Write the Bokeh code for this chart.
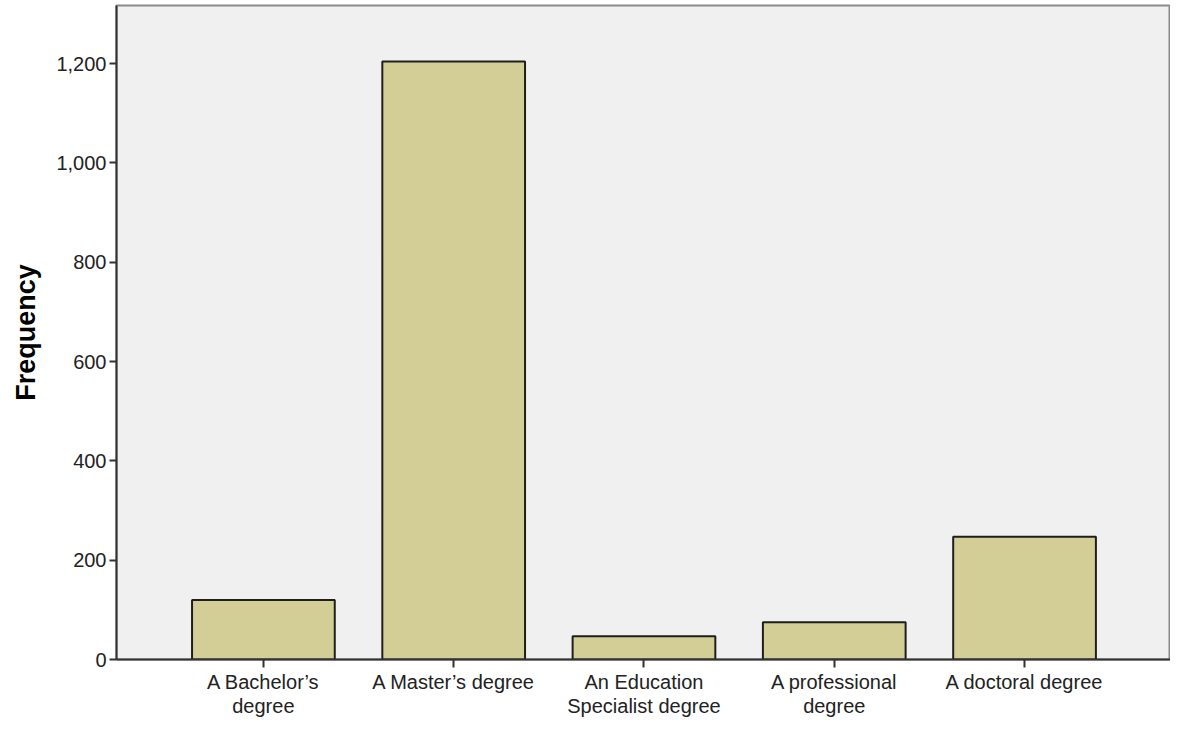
from bokeh.plotting import figure
from bokeh.models import Range1d, FixedTicker, NumeralTickFormatter
from bokeh.embed import file_html
from bokeh.resources import INLINE

categories = ["A Bachelor\u2019s\ndegree", "A Master\u2019s degree", "An Education\nSpecialist degree",
              "A professional\ndegree", "A doctoral degree"]
frequency = [120, 1204, 47, 75, 247]
y_ticks = [0, 200, 400, 600, 800, 1000, 1200]

idx = list(range(len(categories)))

p = figure(width=1170, height=719, output_backend="svg", toolbar_location=None,
           x_range=Range1d(-0.772, 4.767), y_range=Range1d(0, 1317),
           min_border_left=116, min_border_right=0, min_border_top=5, min_border_bottom=55)

p.background_fill_color = "#F0F0F0"
p.border_fill_color = "white"
p.outline_line_color = "#8a8a8a"
p.outline_line_width = 2
p.xgrid.visible = False
p.ygrid.visible = False

p.vbar(x=idx, top=frequency, width=0.75, bottom=0,
       fill_color="#D3CE96", line_color="#1e1e1e", line_width=2)

font = "Liberation Sans"
p.xaxis.ticker = FixedTicker(ticks=idx)
p.xaxis.major_label_overrides = {i: c for i, c in zip(idx, categories)}
p.yaxis.ticker = FixedTicker(ticks=y_ticks)
p.yaxis.formatter = NumeralTickFormatter(format="0,0")

for ax in (p.xaxis[0], p.yaxis[0]):
    ax.axis_line_color = "#333333"
    ax.axis_line_width = 2
    ax.major_tick_line_color = "#333333"
    ax.major_tick_line_width = 2
    ax.major_tick_in = 0
    ax.minor_tick_line_color = None
    ax.major_label_text_font = font
    ax.major_label_text_color = "#222222"

p.xaxis.major_label_text_font_size = "20px"
p.yaxis.major_label_text_font_size = "20px"
p.xaxis.major_label_text_line_height = 1.1
p.xaxis.major_tick_out = 8
p.yaxis.major_tick_out = 7
p.xaxis.major_label_standoff = 3
p.yaxis.major_label_standoff = 3

p.yaxis.axis_label = "Frequency"
p.yaxis.axis_label_text_font = font
p.yaxis.axis_label_text_font_style = "bold"
p.yaxis.axis_label_text_font_size = "27px"
p.yaxis.axis_label_text_color = "#000000"
p.yaxis.axis_label_standoff = 12

open("out.html", "w").write(file_html(p, INLINE))
